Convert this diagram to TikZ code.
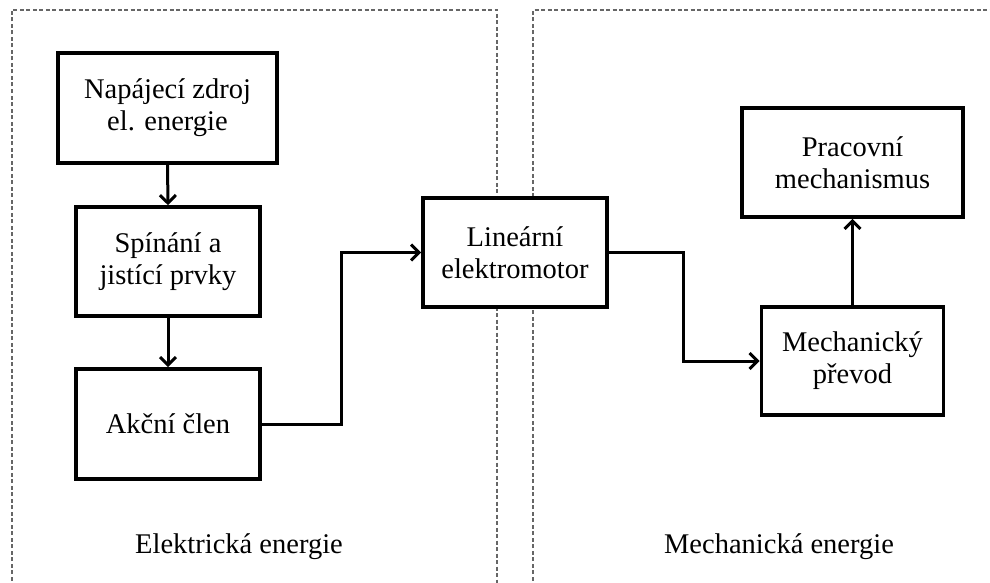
\documentclass[tikz,border=0pt]{standalone}
\usepackage{fontspec}
\setmainfont{Liberation Serif}
\usetikzlibrary{arrows.meta}
\begin{document}
\begin{tikzpicture}[x=1pt,y=-1pt,
  blockbox/.style={draw=black, fill=white, line width=3.6pt, align=center, inner sep=0pt,
    font=\fontsize{28.5}{32}\selectfont},
  conn/.style={line width=3pt, -{Straight Barb[length=8pt,width=16pt,line width=3pt]}},
  zone/.style={draw=black!60, line width=1.3pt, dash pattern=on 4pt off 2.5pt},
  zonelabel/.style={font=\fontsize{28.5}{32}\selectfont, inner sep=0pt}]
\useasboundingbox (0,0) rectangle (990,583);
\clip (0,0) rectangle (990,583);
\draw[zone] (12,600) -- (12,10) -- (497,10) -- (497,600);
\draw[zone] (533,600) -- (533,10) -- (1000,10);

\node[blockbox, minimum width=219pt, minimum height=110pt] (nap) at (167.5,108) {Napájecí zdroj\\el. energie};
\node[blockbox, minimum width=184pt, minimum height=109pt] (spi) at (168,261.5) {Spínání a\\jistící prvky};
\node[blockbox, minimum width=184pt, minimum height=110pt] (akc) at (168,424) {Akční člen};
\node[blockbox, minimum width=184pt, minimum height=109pt] (lin) at (515,252.5) {Lineární\\elektromotor};
\node[blockbox, minimum width=221pt, minimum height=109pt] (pra) at (852.5,162.5) {Pracovní\\mechanismus};
\node[blockbox, minimum width=182pt, minimum height=108pt] (mec) at (852.5,361) {Mechanický\\převod};

\node[zonelabel] (lel) at (239,547) {Elektrická energie};
\node[zonelabel] (lme) at (779,547) {Mechanická energie};

\coordinate (j1) at (341,424);
\coordinate (j2) at (683,252.5);

\draw[conn] (nap.south) -- (spi.north);
\draw[conn] (spi.south) -- (akc.north);
\draw[conn] (akc.east) -- (j1) |- (lin.west);
\draw[conn] (lin.east) -- (j2) |- (mec.west);
\draw[conn] (mec.north) -- (pra.south);
\end{tikzpicture}
\end{document}
